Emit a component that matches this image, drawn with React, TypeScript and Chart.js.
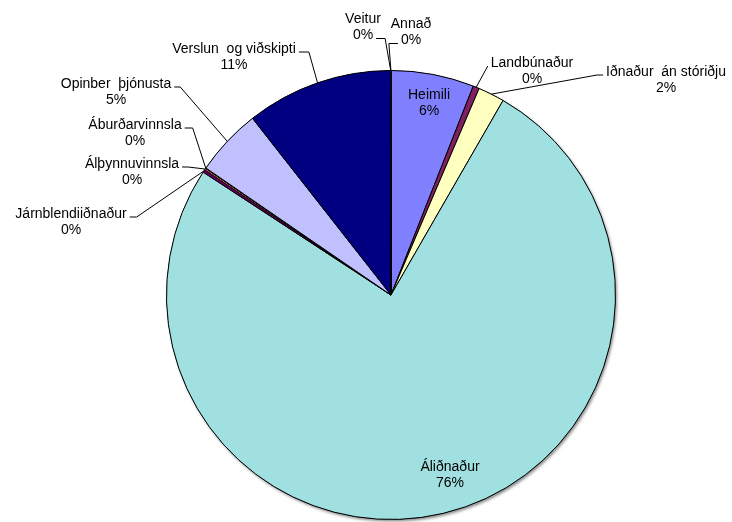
import { useEffect, useRef } from 'react';
import { Chart, registerables } from 'chart.js';

Chart.register(...registerables);

// ---- data ----
const categories = [
  'Heimili',
  'Landbúnaður',
  'Iðnaður  án stóriðju',
  'Áliðnaður',
  'Járnblendiiðnaður',
  'Álþynnuvinnsla',
  'Áburðarvinnsla',
  'Opinber  þjónusta',
  'Verslun  og viðskipti',
  'Veitur',
  'Annað',
];
const shares = [5.97, 0.45, 1.9, 75.9, 0.2, 0.12, 0.03, 4.85, 10.55, 0.02, 0.01];

// ---- styles / layout ----
const sliceColors = [
  '#8080FF', '#802060', '#FFFFC0', '#A0E0E0', '#660066', '#FF8080',
  '#0066CC', '#C0C0FF', '#000080', '#FF00FF', '#FFFF00',
];
// label centre (first line) relative to pie centre
const labelOffsets: [number, number][] = [
  [38, -200], [141, -232], [275, -223], [59, 172], [-320, -81], [-259, -131],
  [-256, -170], [-275, -211], [-157, -246], [-28, -276], [20, -271],
];
// leader: side of text where line starts ('r' | 'l' | ''), text line index, horizontal length
const leaderSide = ['', 'l', 'l', '', 'r', 'r', 'r', 'r', 'r', 'r', 'l'];
const leaderLine = [0, 0, 0, 0, 0, 0, 0, 0, 0, 1, 1];
const leaderRun = [0, 0, 6, 0, 7, 6, 8, 6, 10, 9, 9];

const FONT = '14px "Liberation Sans", Arial, sans-serif';
const LINE_H = 16.5;

const labelPlugin = {
  id: 'excelLabels',
  beforeDatasetsDraw(chart: any) {
    const meta = chart.getDatasetMeta(0);
    const a = meta.data[0];
    if (!a) return;
    const ctx = chart.ctx;
    ctx.save();
    ctx.shadowColor = 'rgba(0,0,0,0.45)';
    ctx.shadowBlur = 3;
    ctx.shadowOffsetX = 1.5;
    ctx.shadowOffsetY = 2;
    ctx.beginPath();
    ctx.arc(a.x, a.y, a.outerRadius, 0, Math.PI * 2);
    ctx.fillStyle = '#000';
    ctx.fill();
    ctx.restore();
  },
  afterDatasetsDraw(chart: any) {
    const ctx = chart.ctx;
    const meta = chart.getDatasetMeta(0);
    const data = chart.data.datasets[0].data as number[];
    const total = data.reduce((s, v) => s + v, 0);
    ctx.save();
    ctx.font = FONT;
    ctx.fillStyle = '#000';
    ctx.textAlign = 'center';
    ctx.textBaseline = 'middle';
    meta.data.forEach((arc: any, i: number) => {
      const cx = arc.x;
      const cy = arc.y;
      const lx = cx + labelOffsets[i][0];
      const ly = cy + labelOffsets[i][1];
      const lines = [chart.data.labels[i], Math.round((data[i] / total) * 100) + '%'];
      lines.forEach((t: string, k: number) => ctx.fillText(t, lx, ly + k * LINE_H));
      const side = leaderSide[i];
      if (side) {
        const li = leaderLine[i];
        const w = ctx.measureText(lines[li]).width;
        const sy = ly + li * LINE_H + 3;
        const sx = side === 'r' ? lx + w / 2 + 3 : lx - w / 2 - 3;
        const ex = side === 'r' ? sx + leaderRun[i] : sx - leaderRun[i];
        const mid = (arc.startAngle + arc.endAngle) / 2;
        const px = cx + Math.cos(mid) * arc.outerRadius;
        const py = cy + Math.sin(mid) * arc.outerRadius;
        ctx.beginPath();
        ctx.strokeStyle = '#000';
        ctx.lineWidth = 1;
        ctx.moveTo(sx, sy);
        ctx.lineTo(ex, sy);
        ctx.lineTo(px, py);
        ctx.stroke();
      }
    });
    ctx.restore();
  },
};

export default function App() {
  const ref = useRef<HTMLCanvasElement | null>(null);
  useEffect(() => {
    if (!ref.current) return;
    const chart = new Chart(ref.current, {
      type: 'pie',
      data: {
        labels: categories,
        datasets: [
          {
            data: shares,
            backgroundColor: sliceColors,
            borderColor: '#000',
            borderWidth: 1,
          },
        ],
      },
      options: {
        responsive: false,
        animation: false,
        layout: { padding: { left: 166, right: 116, top: 70, bottom: 2 } },
        plugins: { legend: { display: false }, tooltip: { enabled: false } },
      },
      plugins: [labelPlugin],
    });
    return () => chart.destroy();
  }, []);
  return (
    <div style={{ position: 'absolute', left: 0, top: 0, width: 732, height: 522, background: '#fff' }}>
      <canvas ref={ref} width={732} height={522} style={{ display: 'block' }} />
    </div>
  );
}
